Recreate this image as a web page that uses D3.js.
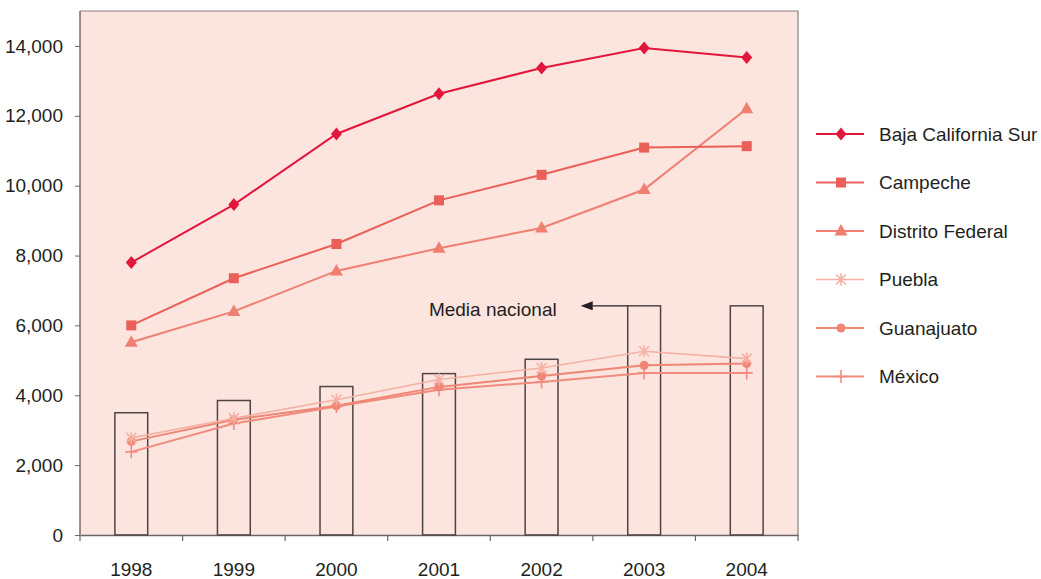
<!DOCTYPE html>
<html>
<head>
<meta charset="utf-8">
<script src="https://cdn.jsdelivr.net/npm/d3@7"></script>
<style>
    body { margin: 0; background: #fff; }
    svg { display: block; font-family: "Liberation Sans", Arial, Helvetica, sans-serif; }
    .axis text { font-size: 19px; fill: #231f20; }
    .axis path, .axis line { stroke: #6d6565; }
</style>
</head>
<body>
<svg id="chart" width="1041" height="579"></svg>
<script>
// Daten
const years = ['1998', '1999', '2000', '2001', '2002', '2003', '2004'];
const yTicks = [0, 2000, 4000, 6000, 8000, 10000, 12000, 14000];
const mediaNacional = [3500, 3850, 4250, 4620, 5030, 6560, 6560];
const bajaCalifornia = [7800, 9460, 11480, 12630, 13370, 13940, 13670];
const campeche = [6000, 7350, 8330, 9580, 10310, 11090, 11130];
const distritoFederal = [5520, 6400, 7560, 8210, 8790, 9890, 12200];
const puebla = [2780, 3340, 3870, 4450, 4780, 5260, 5050];
const guanajuato = [2680, 3300, 3700, 4240, 4550, 4860, 4910];
const mexico = [2380, 3190, 3680, 4160, 4380, 4640, 4640];

const seriesNames = ['Baja California Sur', 'Campeche', 'Distrito Federal', 'Puebla', 'Guanajuato', 'México'];
const seriesValues = [bajaCalifornia, campeche, distritoFederal, puebla, guanajuato, mexico];
const seriesColors = ['#e2173c', '#ea5f58', '#ef7f70', '#f6b0a3', '#ef8676', '#f08c7d'];
const seriesMarkers = ['diamond', 'square', 'triangle', 'star', 'circle', 'plus'];
const seriesWidths = [2, 2, 2, 1.6, 2, 2];

const svg = d3.select('#chart');
const margin = { top: 11, right: 243, bottom: 44, left: 80 };
const width = 1041 - margin.left - margin.right;
const height = 579 - margin.top - margin.bottom;

const g = svg.append('g')
    .attr('transform', `translate(${margin.left},${margin.top})`);

// Skalen
const x = d3.scaleBand().domain(years).range([0, width]).padding(0);
const y = d3.scaleLinear().domain([0, 15000]).range([height, 0]);
const barW = x.bandwidth() * 0.32;
const cx = d => x(d) + x.bandwidth() / 2;

// Hintergrund + Rahmen
g.append('rect')
    .attr('width', width).attr('height', height)
    .attr('fill', '#fce4df');
g.append('path')
    .attr('d', `M0,0H${width}V${height}`)
    .attr('fill', 'none')
    .attr('stroke', '#8a8282')
    .attr('stroke-width', 1.2);

// Achsen
g.append('g')
    .attr('class', 'axis')
    .call(d3.axisLeft(y).tickValues(yTicks).tickSize(5).tickPadding(12).tickFormat(d3.format(',')))
    .call(a => a.select('.domain').attr('d', `M0,${height}V0`).attr('stroke-width', 1.4));

const xAxis = g.append('g')
    .attr('class', 'axis')
    .attr('transform', `translate(0,${height})`)
    .call(d3.axisBottom(x).tickSize(0).tickPadding(28))
    .call(a => a.select('.domain').attr('stroke-width', 1.4));

// Tick-Striche an den Kategoriegrenzen
xAxis.selectAll('.bound')
    .data(d3.range(years.length + 1))
    .enter()
    .append('line')
    .attr('class', 'bound')
    .attr('x1', i => i * x.step())
    .attr('x2', i => i * x.step())
    .attr('y1', 0)
    .attr('y2', 6)
    .attr('stroke', '#6d6565')
    .attr('stroke-width', 1.2);

// Balken Media nacional
g.selectAll('.bar')
    .data(years)
    .enter()
    .append('rect')
    .attr('class', 'bar')
    .attr('x', d => cx(d) - barW / 2)
    .attr('width', barW)
    .attr('y', (d, i) => y(mediaNacional[i]))
    .attr('height', (d, i) => y(0) - y(mediaNacional[i]))
    .attr('fill', 'none')
    .attr('stroke', '#4f4444')
    .attr('stroke-width', 1.5);

// Marker-Pfade
function markerPath(type) {
    switch (type) {
        case 'diamond': return 'M0,-6.5L5.5,0L0,6.5L-5.5,0Z';
        case 'square': return 'M-5,-5H5V5H-5Z';
        case 'triangle': return 'M0,-7L6.5,4.5H-6.5Z';
        case 'circle': return d3.symbol(d3.symbolCircle, 64)();
        case 'star': return 'M0,-6V6M-5,-5L5,5M5,-5L-5,5';
        case 'plus': return 'M0,-6.5V6.5M-6,0H6';
    }
}
function markerStyle(sel, type, color) {
    if (type === 'star' || type === 'plus') {
        sel.attr('fill', 'none').attr('stroke', color).attr('stroke-width', 1.6);
    } else {
        sel.attr('fill', color).attr('stroke', 'none');
    }
}

const line = d3.line().x((d, i) => cx(years[i])).y(d => y(d));

// Linien (von hinten nach vorn)
for (let s = seriesNames.length - 1; s >= 0; s--) {
    const vals = seriesValues[s];
    g.append('path')
        .attr('d', line(vals))
        .attr('fill', 'none')
        .attr('stroke', seriesColors[s])
        .attr('stroke-width', seriesWidths[s]);

    g.selectAll(`.m${s}`)
        .data(vals)
        .enter()
        .append('path')
        .attr('class', `m${s}`)
        .attr('transform', (d, i) => `translate(${cx(years[i])},${y(d)})`)
        .attr('d', markerPath(seriesMarkers[s]))
        .call(sel => markerStyle(sel, seriesMarkers[s], seriesColors[s]));
}

// Annotation Media nacional
svg.append('defs').append('marker')
    .attr('id', 'arrow')
    .attr('viewBox', '0 0 12 9')
    .attr('refX', 0).attr('refY', 4.5)
    .attr('markerWidth', 12).attr('markerHeight', 9)
    .attr('markerUnits', 'userSpaceOnUse')
    .attr('orient', 'auto')
    .append('path')
    .attr('d', 'M0,0L12,4.5L0,9Z')
    .attr('fill', '#231f20');

const annY = y(mediaNacional[5]);
const annX0 = cx(years[5]) - barW / 2;
const annX1 = annX0 - 35;
g.append('line')
    .attr('x1', annX0).attr('x2', annX1)
    .attr('y1', annY).attr('y2', annY)
    .attr('stroke', '#231f20')
    .attr('stroke-width', 1.3)
    .attr('marker-end', 'url(#arrow)');
g.append('text')
    .attr('x', annX1 - 36)
    .attr('y', annY + 10)
    .attr('text-anchor', 'end')
    .style('font-size', '19px')
    .style('fill', '#231f20')
    .text('Media nacional');

// Legende
const legend = svg.append('g')
    .attr('transform', `translate(816,134)`);
const legRow = 48.5;
seriesNames.forEach((name, s) => {
    const row = legend.append('g').attr('transform', `translate(0,${s * legRow})`);
    row.append('line')
        .attr('x1', 0).attr('x2', 48)
        .attr('stroke', seriesColors[s])
        .attr('stroke-width', seriesWidths[s]);
    row.append('path')
        .attr('transform', 'translate(25,0)')
        .attr('d', markerPath(seriesMarkers[s]))
        .call(sel => markerStyle(sel, seriesMarkers[s], seriesColors[s]));
    row.append('text')
        .attr('x', 63)
        .attr('dy', '0.35em')
        .style('font-size', '19px')
        .style('fill', '#231f20')
        .text(name);
});
</script>
</body>
</html>
